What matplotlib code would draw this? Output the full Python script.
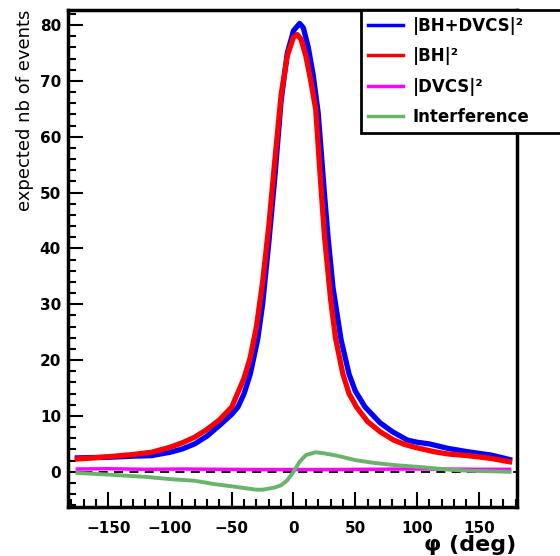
import numpy as np
import matplotlib
matplotlib.use("Agg")
import matplotlib.pyplot as plt
from matplotlib.ticker import MultipleLocator

# values
phi_sum = [-175, -150, -130, -115, -100, -90, -80, -75, -70, -60, -50, -45, -40, -35, -29, -25,
           -20, -15, -10, -5, 0, 5, 8, 12, 16, 20, 25, 28, 32, 38.5, 45, 50, 58, 70, 80, 92,
           100, 110, 125, 141, 160, 175]
bh_dvcs = [2.5, 2.6, 2.8, 2.9, 3.5, 4.1, 5.0, 5.7, 6.4, 8.3, 10.3, 11.6, 14.0, 17.5, 23.7, 30.0,
           41.0, 53.0, 66.5, 75.0, 79.0, 80.3, 79.5, 76.0, 71.0, 64.3, 50.0, 42.0, 33.0, 23.7, 17.5, 14.5,
           11.6, 8.8, 7.2, 5.7, 5.3, 5.0, 4.2, 3.6, 3.0, 2.2]

phi_bh = [-175, -150, -130, -115, -100, -90, -80, -70, -60, -50, -40, -35, -30, -25, -20, -15,
          -10, -5, 0, 3, 6, 10, 14, 18, 20, 22, 25, 30, 34, 40, 45, 51, 60, 70, 81, 90, 100,
          114, 125, 141, 160, 175]
bh = [2.3, 2.7, 3.1, 3.5, 4.4, 5.2, 6.2, 7.6, 9.3, 11.6, 16.8, 20.5, 26.0, 34.0, 44.0, 56.0,
      67.5, 74.5, 77.8, 78.3, 77.5, 74.5, 70.0, 64.9, 58.4, 51.8, 42.5, 31.0, 24.0, 17.5, 14.0, 11.6,
      9.0, 7.2, 5.7, 4.9, 4.3, 3.6, 3.2, 2.9, 2.4, 1.8]

phi_dvcs = [-175, -150, -120, -90, -60, -30, 0, 30, 60, 90, 120, 150, 175]
dvcs = [0.5, 0.55, 0.45, 0.5, 0.45, 0.4, 0.4, 0.4, 0.45, 0.5, 0.5, 0.45, 0.45]

phi_int = [-175, -150, -120, -100, -80, -64, -50, -40, -30, -25, -20, -15, -10, -5, 0, 5,
           10, 18, 25, 35, 50, 65, 82, 100, 111, 125, 141, 160, 175]
interf = [-0.2, -0.5, -0.9, -1.3, -1.6, -2.2, -2.6, -2.9, -3.2, -3.2, -3.0, -2.8, -2.4, -1.5, 0.0, 1.8,
          3.0, 3.5, 3.3, 2.9, 2.1, 1.6, 1.2, 0.9, 0.7, 0.4, 0.2, 0.1, 0.0]

fig = plt.figure(figsize=(5.6, 5.56), dpi=100)
ax = fig.add_axes([68 / 560, 49 / 556, 449 / 560, 497 / 556])

ax.axhline(0, color='black', lw=1.3, ls=(0, (5, 3.5)), zorder=1)
ax.plot(phi_sum, bh_dvcs, color='#0000ff', lw=3.8, label='|BH+DVCS|²', zorder=2)
ax.plot(phi_bh, bh, color='#ff0000', lw=3.8, label='|BH|²', zorder=3)
ax.plot(phi_dvcs, dvcs, color='#ff00ff', lw=2.5, label='|DVCS|²', zorder=4)
ax.plot(phi_int, interf, color='#6ab46a', lw=2.8, label='Interference', zorder=5)

ax.set_xlim(-182.6, 181)
ax.set_ylim(-6.3, 82.7)
ax.xaxis.set_major_locator(MultipleLocator(50))
ax.xaxis.set_minor_locator(MultipleLocator(10))
ax.yaxis.set_major_locator(MultipleLocator(10))
ax.yaxis.set_minor_locator(MultipleLocator(2))
ax.tick_params(which='both', direction='in', width=1.5, top=False, right=False)
ax.tick_params(which='major', length=10.5)
ax.tick_params(which='minor', length=5.5)
ax.tick_params(axis='x', pad=10)
ax.tick_params(axis='y', pad=5)
for lab in ax.get_xticklabels() + ax.get_yticklabels():
    lab.set_fontweight('bold')
    lab.set_fontsize(11)
for sp in ax.spines.values():
    sp.set_linewidth(2.5)

fig.text(25 / 560, 1 - 10 / 556, 'expected nb of events', rotation=90, ha='center', va='top',
         fontsize=13)
fig.text(516 / 560, 1 - 545 / 556, 'φ (deg)', ha='right', va='center', fontsize=16,
         fontweight='bold')

leg = ax.legend(loc='upper left', bbox_to_anchor=(361 / 560, 0, 0.4, 1 - 10 / 556),
                bbox_transform=fig.transFigure, mode='expand', borderaxespad=0,
                prop={'weight': 'bold', 'size': 12}, handlelength=2.1, handletextpad=0.6,
                labelspacing=0.75, borderpad=0.4, fancybox=False, framealpha=1)
leg.get_frame().set_edgecolor('black')
leg.get_frame().set_linewidth(2)
for h in leg.get_lines():
    h.set_linewidth(2.5)

fig.savefig('out.png', dpi=100)
